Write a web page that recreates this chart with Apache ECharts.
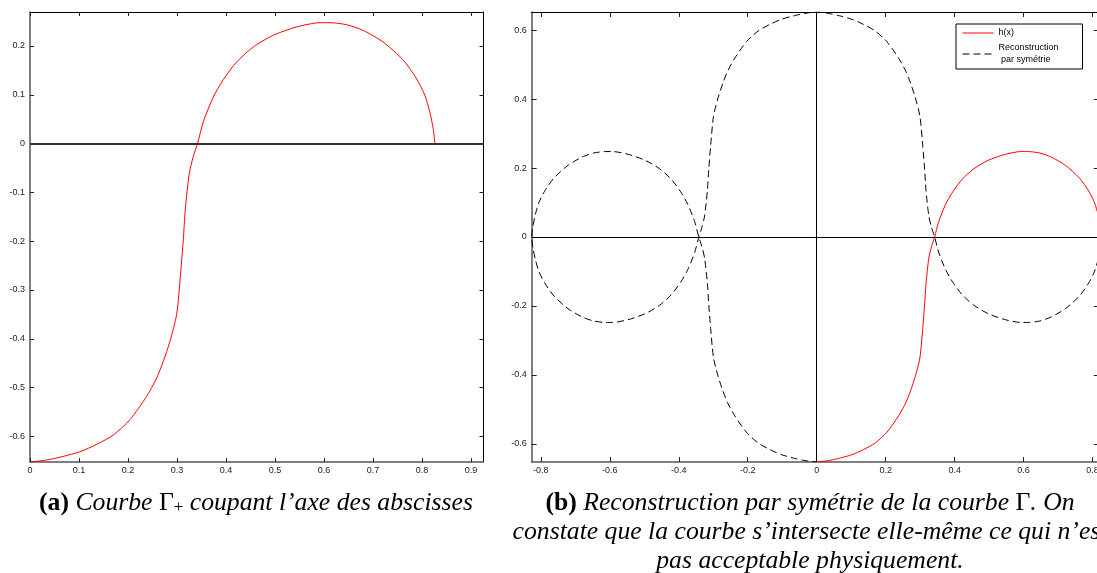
<!DOCTYPE html>
<html><head><meta charset="utf-8">
<script src="https://cdn.jsdelivr.net/npm/echarts@6/dist/echarts.min.js"></script>
<style>html,body{margin:0;padding:0;background:#fff;overflow:hidden}#c{width:1097px;height:573px}</style>
</head><body><div id="c"></div>
<script>
// h(x) (curve Γ+)
const hX = [0, 0.034, 0.068, 0.102, 0.136, 0.170, 0.204, 0.238, 0.2585, 0.272, 0.2857, 0.2993, 0.3075, 0.3129, 0.317, 0.3252, 0.3333, 0.342, 0.3537, 0.374, 0.3945, 0.4218, 0.4558, 0.4966, 0.544, 0.592, 0.612, 0.646, 0.680, 0.721, 0.762, 0.789, 0.806, 0.816, 0.823, 0.8265];
const hY = [-0.6525, -0.6484, -0.641, -0.6314, -0.6164, -0.5972, -0.5659, -0.518, -0.4805, -0.4464, -0.405, -0.35, -0.2654, -0.1972, -0.135, -0.0607, -0.0266, 0.0, 0.0444, 0.095, 0.131, 0.1673, 0.198, 0.222, 0.239, 0.2478, 0.2478, 0.2437, 0.232, 0.208, 0.171, 0.133, 0.099, 0.065, 0.031, 0];

const leftXTicks = [0, 0.1, 0.2, 0.3, 0.4, 0.5, 0.6, 0.7, 0.8, 0.9];
const leftYTicks = [-0.6, -0.5, -0.4, -0.3, -0.2, -0.1, 0, 0.1, 0.2];
const rightXTicks = [-0.8, -0.6, -0.4, -0.2, 0, 0.2, 0.4, 0.6, 0.8];
const rightYTicks = [-0.6, -0.4, -0.2, 0, 0.2, 0.4, 0.6];
const leftXRange = [0, 0.9257];
const leftYRange = [-0.6525, 0.2697];
const rightXRange = [-0.8265, 0.8265];
const rightYRange = [-0.6525, 0.6525];

const seriesNames = ['h(x)', 'Reconstruction par symétrie'];
const captionA = '{b|(a)} {i|Courbe} {g|Γ}{s|+} {i|coupant l’axe des abscisses}';
const captionB = [
  '{b|(b)} {i|Reconstruction par symétrie de la courbe} {g|Γ}{i|. On}',
  '{i|constate que la courbe s’intersecte elle-même ce qui n’est}',
  '{i|pas acceptable physiquement.}'
];

const hData = hX.map((x, i) => [x, hY[i]]);
// reconstruction by symmetry: closed path through the three mirrored copies
const recon = [];
for (let i = hX.length - 1; i >= 0; i--) recon.push([hX[i], -hY[i]]);
for (let i = 0; i < hX.length; i++) recon.push([-hX[i], -hY[i]]);
for (let i = hX.length - 1; i >= 0; i--) recon.push([-hX[i], hY[i]]);

const fmt = v => { const r = Math.round(v * 10) / 10; return (r === 0 ? '0' : String(r)); };
const LBL = {fontSize: 9, color: '#222', fontFamily: 'Liberation Sans'};

function axes(g, xr, yr, xt, yt, tl, rtl) {
  const xs = [
    {type: 'value', gridIndex: g, position: 'bottom', min: xr[0], max: xr[1],
     axisLine: {show: true, onZero: false, lineStyle: {color: '#555', width: 1.5}},
     axisTick: {show: true, inside: true, length: tl, customValues: xt, lineStyle: {color: '#222'}},
     axisLabel: Object.assign({customValues: xt, margin: 4, formatter: fmt}, LBL),
     splitLine: {show: false}},
    {type: 'value', gridIndex: g, position: 'top', min: xr[0], max: xr[1],
     axisLine: {show: true, onZero: false, lineStyle: {color: '#000', width: 1}},
     axisTick: {show: true, inside: true, length: tl, customValues: xt, lineStyle: {color: '#222'}},
     axisLabel: {show: false}, splitLine: {show: false}}
  ];
  const ys = [
    {type: 'value', gridIndex: g, position: 'left', min: yr[0], max: yr[1],
     axisLine: {show: true, onZero: false, lineStyle: {color: '#555', width: 1.5}},
     axisTick: {show: true, inside: true, length: tl, customValues: yt, lineStyle: {color: '#222'}},
     axisLabel: Object.assign({customValues: yt, margin: 5, formatter: fmt}, LBL),
     splitLine: {show: false}},
    {type: 'value', gridIndex: g, position: 'right', min: yr[0], max: yr[1],
     axisLine: {show: true, onZero: false, lineStyle: {color: '#000', width: 1}},
     axisTick: {show: true, inside: true, length: rtl, customValues: yt, lineStyle: {color: '#222'}},
     axisLabel: {show: false}, splitLine: {show: false}}
  ];
  return {xs, ys};
}
const A = axes(0, leftXRange, leftYRange, leftXTicks, leftYTicks, 4, 4);
const B = axes(1, rightXRange, rightYRange, rightXTicks, rightYTicks, 5, 8);

const FS = 25.7;
const serifBase = {fontFamily: 'Liberation Serif', fontSize: FS, fill: '#000'};
const rich = {
  b: Object.assign({}, serifBase, {fontWeight: 'bold', fontStyle: 'normal'}),
  i: Object.assign({}, serifBase, {fontStyle: 'italic'}),
  g: Object.assign({}, serifBase, {fontStyle: 'normal'}),
  s: Object.assign({}, serifBase, {fontSize: 17, fontStyle: 'normal', verticalAlign: 'bottom', lineHeight: 20})
};
function cap(text, x, y) {
  return {type: 'text', x: x, y: y, silent: true,
    style: {text: text, rich: rich, align: 'center', verticalAlign: 'middle',
            font: 'italic ' + FS + 'px "Liberation Serif"', fill: '#000'}};
}

const chart = echarts.init(document.getElementById('c'), null, {renderer: 'canvas'});
chart.setOption({
  animation: false,
  backgroundColor: '#fff',
  grid: [
    {left: 30, top: 12, width: 453.5, height: 450, outerBoundsMode: 'none', containLabel: false},
    {left: 531.7, top: 12, width: 570, height: 450, outerBoundsMode: 'none', containLabel: false}
  ],
  xAxis: A.xs.concat(B.xs),
  yAxis: A.ys.concat(B.ys),
  legend: {
    orient: 'vertical', left: 956, top: 24, padding: [3, 24, 3, 6], itemGap: 3,
    itemWidth: 31, itemHeight: 9, borderColor: '#000', borderWidth: 1,
    backgroundColor: '#fff', selectedMode: false, data: seriesNames,
    itemStyle: {color: 'rgba(0,0,0,0)', borderWidth: 0, opacity: 0},
    lineStyle: {width: 1},
    textStyle: {fontSize: 9, color: '#000', fontFamily: 'Liberation Sans', lineHeight: 12},
    formatter: n => n === seriesNames[1] ? 'Reconstruction\n par symétrie' : n
  },
  series: [
    {name: seriesNames[0], type: 'line', xAxisIndex: 0, yAxisIndex: 0, data: hData,
     symbol: 'none', smooth: 0.25, lineStyle: {color: '#ff0000', width: 1}, itemStyle: {color: '#ff0000'},
     markLine: {silent: true, symbol: 'none', label: {show: false},
       lineStyle: {color: '#333', width: 2, type: 'solid'}, data: [{yAxis: 0}]}},
    {name: seriesNames[1], type: 'line', xAxisIndex: 2, yAxisIndex: 2, data: recon,
     symbol: 'none', smooth: 0.25, lineStyle: {color: '#000', width: 1, type: [7, 4]}, itemStyle: {color: '#000'},
     markLine: {silent: true, symbol: 'none', label: {show: false},
       lineStyle: {color: '#000', width: 1, type: 'solid'}, data: [{yAxis: 0}, {xAxis: 0}]}},
    {name: seriesNames[0], type: 'line', xAxisIndex: 2, yAxisIndex: 2, data: hData,
     symbol: 'none', smooth: 0.25, lineStyle: {color: '#ff0000', width: 1}, itemStyle: {color: '#ff0000'}}
  ],
  graphic: [
    cap(captionA, 256, 503),
    cap(captionB[0], 810, 503),
    cap(captionB[1], 810, 532),
    cap(captionB[2], 810, 561)
  ]
});
</script></body></html>
